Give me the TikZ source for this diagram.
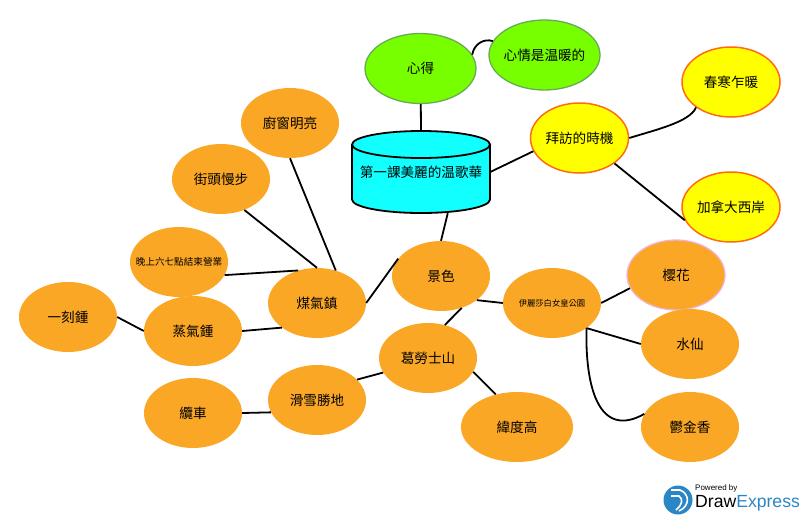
\documentclass[tikz,border=0pt]{standalone}
\usepackage{fontspec}
\setmainfont{Noto Sans CJK TC}
\newfontfamily\logofont{Liberation Sans}
\usetikzlibrary{shapes.geometric}
\definecolor{topicfill}{HTML}{FAA726}
\definecolor{notefill}{HTML}{77FF00}
\definecolor{noteline}{HTML}{66AA55}
\definecolor{timefill}{HTML}{FFFF00}
\definecolor{timeline}{HTML}{FF6A13}
\definecolor{bookfill}{HTML}{11FFFF}
\definecolor{sakuraline}{HTML}{F0B4D4}
\definecolor{logoblue}{HTML}{2B86C5}
\newcommand{\lbl}[1]{\makebox[0pt]{#1}}

\begin{document}
\begin{tikzpicture}[x=1pt,y=-1pt,
    bubble/.style={ellipse,minimum width=98pt,minimum height=70pt,inner sep=0pt,font=\fontsize{13.6}{14}\selectfont},
    topic/.style={bubble,fill=topicfill},
    note/.style={bubble,fill=notefill,draw=noteline,line width=1.3pt,minimum width=111pt},
    timing/.style={bubble,fill=timefill,draw=timeline,line width=1.5pt},
    link/.style={draw=black,line width=1.8pt}]
    \useasboundingbox (0,0) rectangle (800,517);

    \node[note] (mind) at (420.5,68.5) {\lbl{心得}};
    \node[note] (feel) at (544.5,55) {\lbl{心情是温暖的}};

    % drum
    \filldraw[fill=bookfill,line width=1.8pt] (352,144.5) -- (352,199.5) .. controls (352,207) and (383,213) .. (421,213)
        .. controls (459,213) and (490,207) .. (490,199.5) -- (490,144.5);
    \filldraw[fill=bookfill,line width=1.8pt] (421,144.5) ellipse (69pt and 13.5pt);
    \node[minimum width=138pt,minimum height=82pt,inner sep=0pt,font=\fontsize{13.6}{14}\selectfont] (book) at (421,172) {\lbl{第一課美麗的温歌華}};

    \node[timing] (visit) at (579.5,138) {\lbl{拜訪的時機}};
    \node[timing] (spring) at (731,82) {\lbl{春寒乍暖}};
    \node[timing] (coast) at (731,207) {\lbl{加拿大西岸}};

    \node[topic] (window) at (290,123) {\lbl{廚窗明亮}};
    \node[topic] (street) at (221,179) {\lbl{街頭慢步}};
    \node[topic,font=\fontsize{9.6}{10}\selectfont] (evening) at (179,262) {\lbl{晚上六七點結束營業}};
    \node[topic] (steam) at (193,331) {\lbl{蒸氣鍾}};
    \node[topic] (town) at (317,303) {\lbl{煤氣鎮}};
    \node[topic] (bell) at (68,317) {\lbl{一刻鍾}};
    \node[topic] (scenery) at (441,276) {\lbl{景色}};
    \node[topic,font=\fontsize{8.3}{9}\selectfont] (park) at (552,303) {\lbl{伊麗莎白女皇公園}};
    \node[topic,draw=sakuraline,line width=1.3pt] (sakura) at (676,275) {\lbl{櫻花}};
    \node[topic] (daffodil) at (690,344) {\lbl{水仙}};
    \node[topic] (tulip) at (690,427) {\lbl{鬱金香}};
    \node[topic,minimum width=112pt] (latitude) at (517,427) {\lbl{緯度高}};
    \node[topic] (grouse) at (428,358) {\lbl{葛勞士山}};
    \node[topic] (ski) at (317,400) {\lbl{滑雪勝地}};
    \node[topic] (cable) at (193,413) {\lbl{纜車}};

    \draw[link] (mind) -- (book.north);
    \draw[link] (mind.15) .. controls (474,44) and (484,38) .. (feel.165);
    \draw[link] (book.east) -- (visit.196);
    \draw[link] (visit.east) .. controls (655,130) and (690,122) .. (spring.216);
    \draw[link] (visit.-36) -- (coast.196);
    \draw[link] (book.-57) -- (scenery.north);
    \draw[link] (scenery.158) -- (town.east);
    \draw[link] (window.south) -- (town.60);
    \draw[link] (street.-53) -- (town.north);
    \draw[link] (evening.-16) -- (town.120);
    \draw[link] (steam.east) -- (town.215);
    \draw[link] (bell.east) -- (steam.west);
    \draw[link] (scenery.-34) -- (park.west);
    \draw[link] (scenery.-57) -- (grouse.63);
    \draw[link] (park.east) -- (sakura.196);
    \draw[link] (park.-36) -- (daffodil.west);
    \draw[link] (park.-36) .. controls (585,385) and (598,440) .. (tulip.164);
    \draw[link] (grouse.198) -- (ski.27);
    \draw[link] (grouse.-17) -- (latitude.123);
    \draw[link] (ski.195) -- (cable.east);

    % logo
    \node[circle,fill=logoblue,minimum size=29pt,inner sep=0pt] (logo) at (678,500) {};
    \draw[white,line width=1.6pt] (671,490) -- (680,490) .. controls (690,494) and (690,506) .. (679,511);
    \draw[white,line width=1.6pt] (671,496) -- (679,496) .. controls (683,499) and (683,504) .. (676,510);
    \node[anchor=west,inner sep=0pt,font=\logofont\fontsize{8}{8}\selectfont] (powered) at (695,488.5) {Powered by};
    \node[anchor=west,inner sep=0pt,font=\logofont\fontsize{17.6}{18}\selectfont] (brand) at (695,503) {Draw\textcolor{logoblue}{Express}};
\end{tikzpicture}
\end{document}
